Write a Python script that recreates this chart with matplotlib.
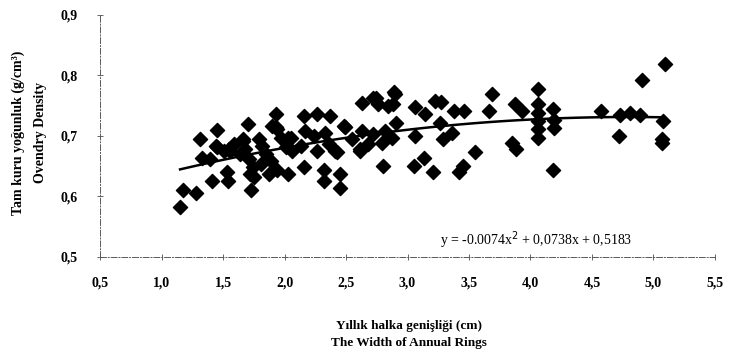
import numpy as np
import matplotlib.pyplot as plt

# annual ring width (cm) and oven-dry density (g/cm3)
ring_width = [1.15, 1.17, 1.28, 1.31, 1.45, 1.41, 1.54, 1.53, 1.33, 1.45,
              1.55, 1.70, 1.73, 1.66, 1.72, 1.93, 1.93, 1.87, 2.03, 2.05,
              2.16, 2.16, 2.26, 2.32, 2.32, 2.45, 2.45, 2.37, 2.41, 2.49,
              2.63, 2.74, 2.89, 2.84, 2.80, 2.61, 3.06, 3.05,
              1.39, 1.44, 1.51, 1.56, 1.59, 1.66, 1.68, 1.64, 1.71, 1.74,
              1.75, 1.79, 1.82, 1.85, 1.89, 1.81, 1.90, 1.94, 1.97, 2.01,
              1.94, 2.03, 2.06, 2.13, 2.17, 2.24, 2.26, 2.33, 2.36, 2.43,
              2.48, 2.55, 2.63, 2.61, 2.68, 2.72, 2.79, 2.82, 2.87, 2.91,
              2.72, 2.76, 2.90, 2.88,
              3.14, 3.22, 3.27, 3.06, 3.26, 3.29, 3.36, 3.38, 3.46, 3.13,
              3.21, 3.42, 3.45, 3.55, 3.66, 3.69, 3.85, 3.88, 3.87, 3.93,
              4.06, 4.06, 4.06, 4.06, 4.06, 4.06, 4.18, 4.19, 4.19, 4.18,
              4.57, 4.73, 4.81, 4.89, 4.72, 4.91, 5.09, 5.08, 5.07, 5.07]
density = [0.582, 0.611, 0.605, 0.695, 0.710, 0.626, 0.626, 0.640, 0.664, 0.681,
           0.678, 0.719, 0.611, 0.692, 0.637, 0.737, 0.714, 0.637, 0.637, 0.697,
           0.648, 0.733, 0.736, 0.643, 0.626, 0.637, 0.614, 0.733, 0.675, 0.714,
           0.755, 0.763, 0.773, 0.749, 0.651, 0.678, 0.748, 0.651,
           0.662, 0.684, 0.675, 0.675, 0.686, 0.695, 0.678, 0.670, 0.662, 0.648,
           0.632, 0.695, 0.684, 0.670, 0.659, 0.654, 0.716, 0.711, 0.697, 0.681,
           0.643, 0.697, 0.675, 0.684, 0.708, 0.700, 0.675, 0.705, 0.686, 0.673,
           0.716, 0.695, 0.708, 0.675, 0.686, 0.703, 0.689, 0.708, 0.697, 0.722,
           0.763, 0.752, 0.770, 0.752,
           0.737, 0.757, 0.756, 0.700, 0.722, 0.695, 0.705, 0.742, 0.742, 0.663,
           0.640, 0.640, 0.651, 0.674, 0.742, 0.769, 0.689, 0.678, 0.752, 0.742,
           0.778, 0.752, 0.738, 0.725, 0.711, 0.696, 0.744, 0.727, 0.713, 0.643,
           0.742, 0.735, 0.738, 0.735, 0.700, 0.793, 0.819, 0.725, 0.695, 0.688]

x_ticks = [0.5, 1.0, 1.5, 2.0, 2.5, 3.0, 3.5, 4.0, 4.5, 5.0, 5.5]
y_ticks = [0.5, 0.6, 0.7, 0.8, 0.9]

plt.rcParams['font.family'] = ['Liberation Serif', 'DejaVu Serif']

fig = plt.figure(figsize=(7.31, 3.64), dpi=100)
ax = fig.add_axes([0.137, 0.294, 0.841, 0.665])

ax.scatter(ring_width, density, marker='D', s=52, color='black', zorder=3)

# 2nd order trend line fitted to the points
coef = np.polyfit(ring_width, density, 2)
xs = np.linspace(min(ring_width), max(ring_width), 100)
ax.plot(xs, np.polyval(coef, xs), color='black', lw=1.8, zorder=2)

ax.set_xlim(0.5, 5.5)
ax.set_ylim(0.5, 0.9)
ax.set_xticks(x_ticks)
ax.set_yticks(y_ticks)
ax.set_xticklabels([f'{v:.1f}'.replace('.', ',') for v in x_ticks], fontweight='bold', fontsize=10)
ax.set_yticklabels([f'{v:.1f}'.replace('.', ',') for v in y_ticks], fontweight='bold', fontsize=10)
ax.tick_params(axis='x', direction='inout', length=4, width=0.6, pad=12, color='0.3')
ax.tick_params(axis='y', direction='inout', length=4, width=0.6, pad=14, color='0.3')

for side in ['top', 'right']:
    ax.spines[side].set_visible(False)
for side in ['left', 'bottom']:
    ax.spines[side].set_linewidth(0.7)
    ax.spines[side].set_color('0.35')
    ax.spines[side].set_linestyle((0, (6, 2, 1, 2)))

ax.text(4.05, 0.528, 'y = -0.0074x$^2$ + 0,0738x + 0,5183', fontsize=10,
        ha='center', va='center')

fig.text(0.025, 0.635, 'Tam kuru yoğunluk (g/cm³)', rotation=90, fontsize=10,
         fontweight='bold', ha='center', va='center')
fig.text(0.055, 0.635, 'Ovendry Density', rotation=90, fontsize=10,
         fontweight='bold', ha='center', va='center')
fig.text(0.56, 0.105, 'Yıllık halka genişliği (cm)', fontsize=9.5,
         fontweight='bold', ha='center', va='center')
fig.text(0.56, 0.058, 'The Width of Annual Rings', fontsize=9.5,
         fontweight='bold', ha='center', va='center')

plt.savefig('out.png', dpi=100)
